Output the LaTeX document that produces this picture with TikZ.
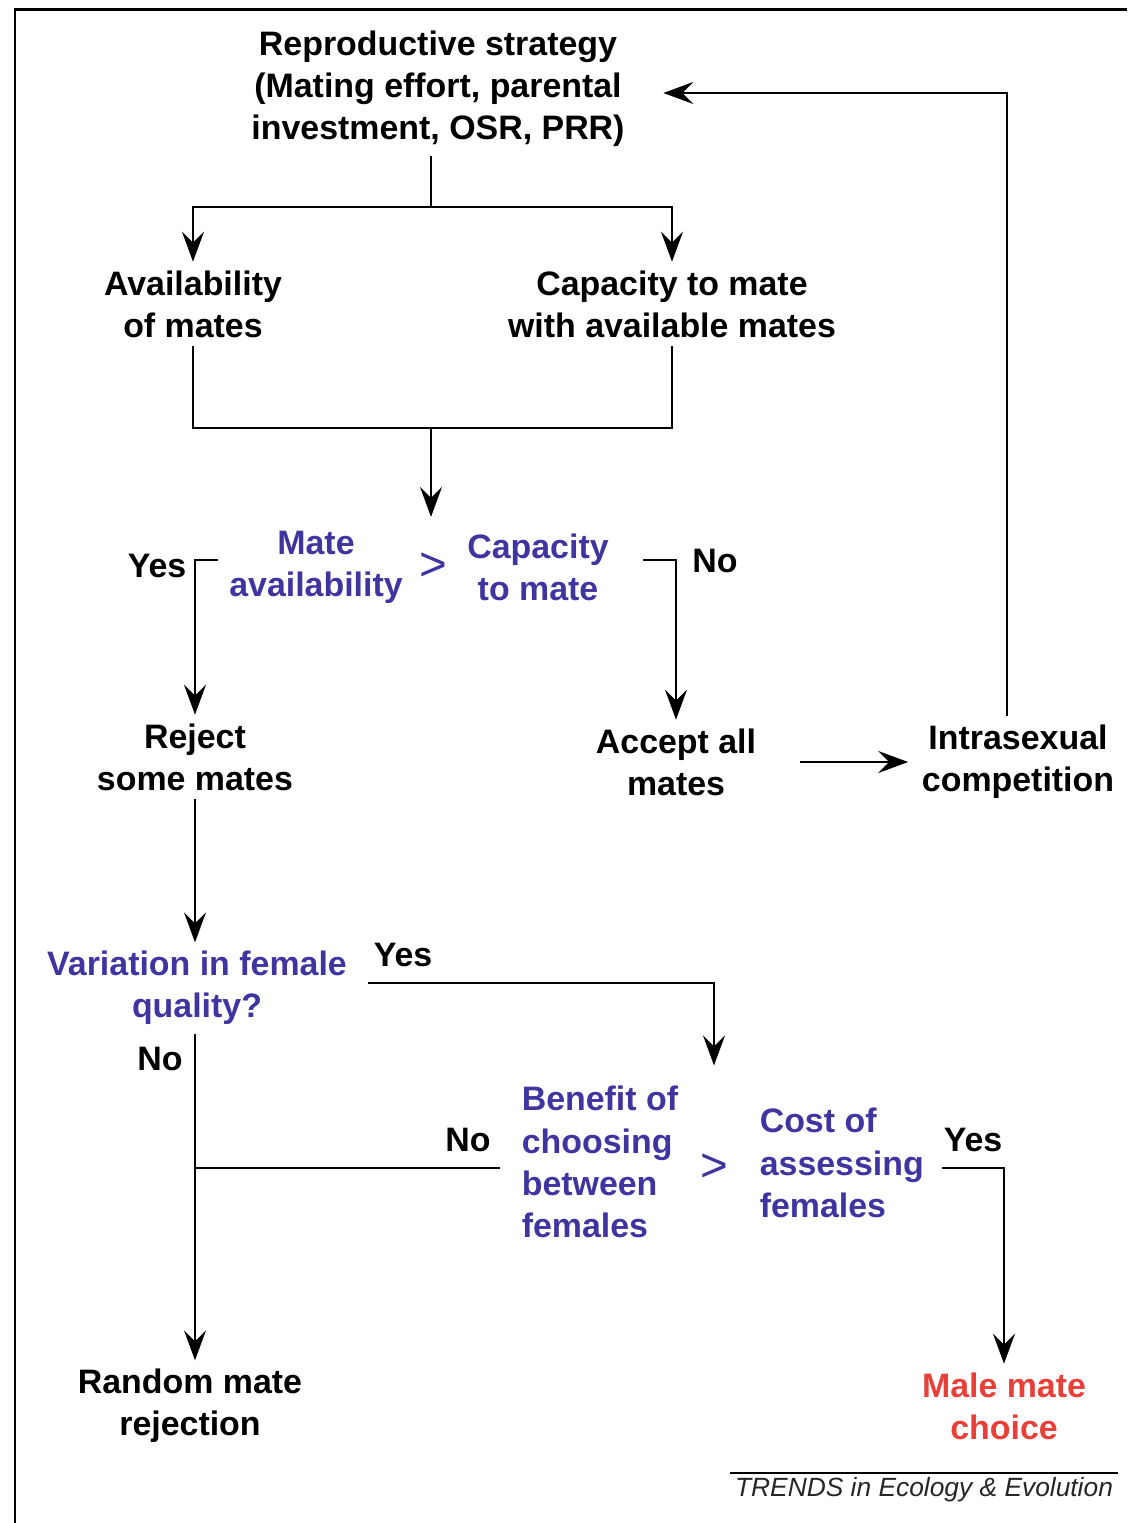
\documentclass[tikz,border=0pt]{standalone}
\usepackage{fontspec}
\setmainfont{Liberation Sans}
\usepackage{tikz}
\usetikzlibrary{arrows.meta,positioning,calc}
\definecolor{qblue}{RGB}{64,52,160}
\definecolor{resred}{RGB}{232,64,56}
\tikzset{
	txt/.style = {font=\bfseries\fontsize{19.3}{24}\selectfont, align=center, inner sep=1pt, outer sep=4pt},
	qtxt/.style = {txt, text=qblue},
	gtsign/.style = {qtxt, font=\fontsize{27}{27}\selectfont},
	res/.style = {txt, text=resred},
	ans/.style = {txt},
	tmp/.style = {coordinate}
}

\begin{document}
\begin{tikzpicture}[x=0.02cm,y=-0.02cm,line width=1.4pt,>={Stealth[length=0.6cm,width=0.44cm,inset=0.22cm]}]
    \useasboundingbox (0,0) rectangle (1127,1523);
    \draw [line width=1.7pt] (15,1523) -- (15,10) -- (1127,10);

    \node [txt] (strategy) at (438,89) {Reproductive strategy\\(Mating effort, parental\\investment, OSR, PRR)};
    \node [txt] (avail) at (193,304) {Availability\\of mates};
    \node [txt] (capacity) at (672,304) {Capacity to mate\\with available mates};

    \node [qtxt] (matavail) at (316,567) {Mate\\availability};
    \node [gtsign, right of=matavail, node distance=2.34cm] (gt1) {>};
    \node [qtxt] (capmate) at (538,567) {Capacity\\to mate};
    \node [ans] (yes1) at (157,566) {Yes};
    \node [ans] (no1) at (715,561) {No};

    \node [txt] (reject) at (195,757) {Reject\\some mates};
    \node [txt] (acceptall) at (676,762) {Accept all\\mates};
    \node [txt] (intra) at (1018,762) {Intrasexual\\competition};

    \node [qtxt] (variation) at (197,988) {Variation in female\\quality?};
    \node [ans] (yes2) at (403,955) {Yes};
    \node [ans] (no2) at (160,1059) {No};

    \node [qtxt, align=left, anchor=west] (benefit) at (513,1162) {Benefit of\\choosing\\between\\females};
    \node [gtsign] (gt2) at (714,1168) {>};
    \node [qtxt, align=left, anchor=west] (cost) at (751,1163) {Cost of\\assessing\\females};
    \node [ans] (no3) at (468,1140) {No};
    \node [ans] (yes3) at (973,1140) {Yes};

    \node [txt] (random) at (190,1406) {Random mate\\rejection};
    \node [res] (malechoice) at (1004,1406) {Male mate\\choice};

    \node [font=\itshape\fontsize{15}{18}\selectfont, text=black!85, inner sep=2pt] (trends) at (924,1490) {TRENDS in Ecology \& Evolution};
    \draw [line width=1.1pt] (trends.north west) -- (trends.north east);

    % bends and free ends
    \coordinate (j1) at (431,207);
    \coordinate (j2) at (431,428);
    \coordinate (c1) at (218,560);
    \coordinate (c2) at (643,560);
    \coordinate (c3) at (500,1168);
    \coordinate (c4) at (942,1168);

    \draw (strategy.south -| j1) -- (j1);
    \draw [->] (j1) -| (avail);
    \draw [->] (j1) -| (capacity);
    \draw (avail) |- (j2);
    \draw (capacity) |- (j2);
    \draw [->, shorten >=0.55cm] (j2) -- (j2 |- gt1.north);

    \draw [->] (c1) -| (reject);
    \draw [->] (c2) -| (acceptall);
    \draw [->, shorten <=0.7cm, shorten >=0.1cm] (acceptall) -- (intra);
    \draw [->, shorten >=0.6cm] ([xshift=-0.22cm]intra.north) |- (strategy.east |- 0,93);

    \draw [->] (reject.south -| 195,0) -- (variation.north -| 195,0);
    \draw [->, shorten >=1.6cm] ([shift={(0.24cm,0.1cm)}]variation.east) -| (gt2);
    \draw [->] (variation.south -| 195,0) -- (random.north -| 195,0);
    \draw (c3) -- (c3 -| 195,0);
    \draw [->] (c4) -| (malechoice);
\end{tikzpicture}
\end{document}
